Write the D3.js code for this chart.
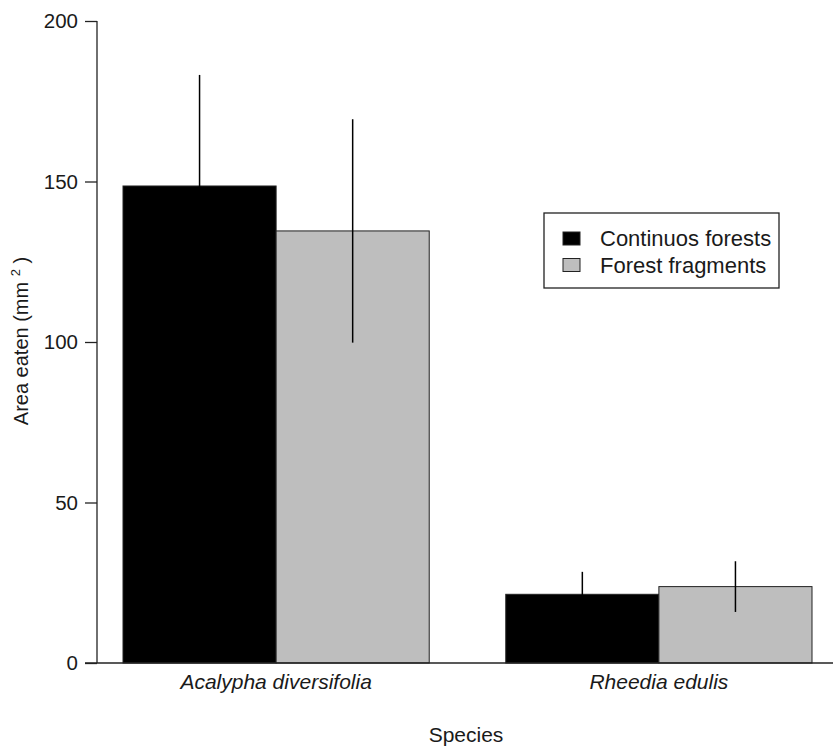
<!DOCTYPE html>
<html>
<head>
<meta charset="utf-8">
<script src="https://cdn.jsdelivr.net/npm/d3@7"></script>
<style>
  html, body { margin: 0; padding: 0; background: #fff; }
  svg { display: block; }
  text { font-family: "Liberation Sans", Arial, Helvetica, sans-serif; fill: #1a1a1a; }
</style>
</head>
<body>
<svg id="chart" width="833" height="753"></svg>
<script>
// Leaf area eaten per plant species, by forest type
const species = ["Acalypha diversifolia", "Rheedia edulis"];
const seriesNames = ["Continuos forests", "Forest fragments"];
const continuousMean = [148.6, 21.4];
const continuousSE = [34.6, 7.0];
const fragmentMean = [134.6, 23.8];
const fragmentSE = [34.8, 7.9];
const yTicks = [0, 50, 100, 150, 200];

const seriesColors = ["#000000", "#bebebe"];
const means = [continuousMean, fragmentMean];
const errs = [continuousSE, fragmentSE];

const svg = d3.select("#chart");

const y = d3.scaleLinear().domain([0, 200]).range([663, 21]);
const x0 = d3.scaleBand().domain(species).range([123, 812]).paddingInner(0.2).paddingOuter(0);
const x1 = d3.scaleBand().domain(seriesNames).range([0, x0.bandwidth()]).padding(0);

// Bars
const rows = [];
species.forEach((sp, i) => {
  seriesNames.forEach((s, j) => {
    rows.push({ sp, s, j, v: means[j][i], e: errs[j][i] });
  });
});

svg.append("g").selectAll("rect").data(rows).join("rect")
  .attr("x", d => x0(d.sp) + x1(d.s))
  .attr("y", d => y(d.v))
  .attr("width", x1.bandwidth())
  .attr("height", d => y(0) - y(d.v))
  .attr("fill", d => seriesColors[d.j])
  .attr("stroke", "#222")
  .attr("stroke-width", 1);

// Error bars (± SE, no caps)
svg.append("g").selectAll("line").data(rows).join("line")
  .attr("x1", d => x0(d.sp) + x1(d.s) + x1.bandwidth() / 2)
  .attr("x2", d => x0(d.sp) + x1(d.s) + x1.bandwidth() / 2)
  .attr("y1", d => y(d.v + d.e))
  .attr("y2", d => y(d.v - d.e))
  .attr("stroke", "#000")
  .attr("stroke-width", 1.5);

// Y axis
const yAxis = d3.axisLeft(y).tickValues(yTicks).tickSize(12).tickPadding(7).tickFormat(d3.format("d"));
const gy = svg.append("g").attr("transform", "translate(97,0)").call(yAxis);
gy.select(".domain").attr("d", `M0,${y(200)}V${y(0)}`).attr("stroke", "#222").attr("stroke-width", 1.3);
gy.selectAll(".tick line").attr("stroke", "#222").attr("stroke-width", 1.3);
gy.selectAll(".tick text").attr("font-size", 20.5).attr("fill", "#1a1a1a")
  .style("font-family", '"Liberation Sans", Arial, sans-serif');

// Baseline
svg.append("line")
  .attr("x1", 85).attr("x2", 833)
  .attr("y1", y(0)).attr("y2", y(0))
  .attr("stroke", "#222").attr("stroke-width", 1.3);

// Category labels
svg.append("g").selectAll("text").data(species).join("text")
  .attr("x", d => x0(d) + x0.bandwidth() / 2)
  .attr("y", 689)
  .attr("text-anchor", "middle")
  .attr("font-size", 21)
  .attr("font-style", "italic")
  .text(d => d);

// Axis titles
svg.append("text")
  .attr("x", 466).attr("y", 742)
  .attr("text-anchor", "middle")
  .attr("font-size", 21)
  .text("Species");

const yl = svg.append("text")
  .attr("transform", "translate(28,341) rotate(-90)")
  .attr("text-anchor", "middle")
  .attr("font-size", 20);
yl.append("tspan").text("Area eaten (mm ");
yl.append("tspan").attr("font-size", 13).attr("dy", -8).text("2");
yl.append("tspan").attr("dy", 8).text(" )");

// Legend
const lg = svg.append("g");
lg.append("rect")
  .attr("x", 544).attr("y", 213).attr("width", 235).attr("height", 75)
  .attr("fill", "#fff").attr("stroke", "#222").attr("stroke-width", 1.3);
const items = lg.selectAll("g.item").data(seriesNames).join("g")
  .attr("class", "item")
  .attr("transform", (d, i) => `translate(0,${i * 26.5})`);
items.append("rect")
  .attr("x", 563).attr("y", 232).attr("width", 17).attr("height", 13)
  .attr("fill", (d, i) => seriesColors[i])
  .attr("stroke", "#222").attr("stroke-width", 1);
items.append("text")
  .attr("x", 600).attr("y", 246)
  .attr("font-size", 22)
  .text(d => d);
</script>
</body>
</html>
